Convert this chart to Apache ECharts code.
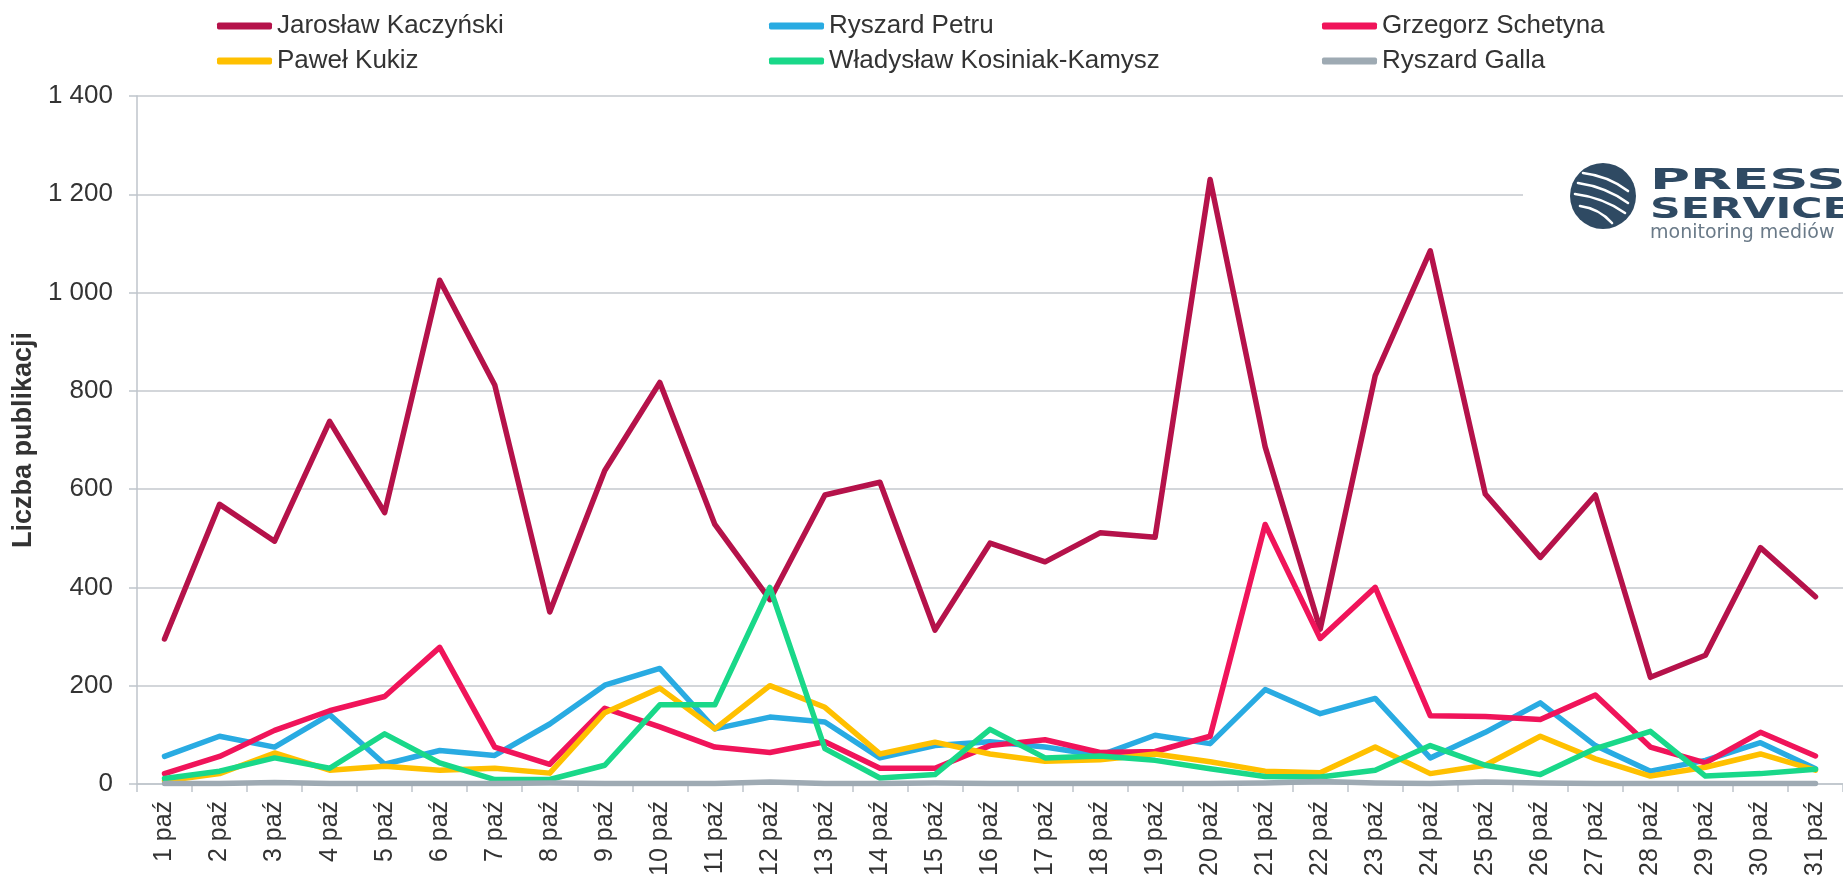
<!DOCTYPE html>
<html>
<head>
<meta charset="utf-8">
<script src="https://cdn.jsdelivr.net/npm/echarts@6/dist/echarts.min.js"></script>
<style>
  html, body { margin: 0; padding: 0; background: #fff; }
  #chart { width: 1843px; height: 879px; }
</style>
</head>
<body>
<div id="chart"></div>
<script>
// dane z wykresu (październik)
var categories = ['1 paź', '2 paź', '3 paź', '4 paź', '5 paź', '6 paź', '7 paź', '8 paź', '9 paź', '10 paź',
  '11 paź', '12 paź', '13 paź', '14 paź', '15 paź', '16 paź', '17 paź', '18 paź', '19 paź', '20 paź',
  '21 paź', '22 paź', '23 paź', '24 paź', '25 paź', '26 paź', '27 paź', '28 paź', '29 paź', '30 paź', '31 paź']

var names = ['Jarosław Kaczyński', 'Ryszard Petru', 'Grzegorz Schetyna', 'Paweł Kukiz', 'Władysław Kosiniak-Kamysz', 'Ryszard Galla']
var colors = ['#b5124a', '#29abe2', '#f0145a', '#ffc000', '#19d889', '#9eaab3']

var kaczynski = [295, 569, 494, 738, 552, 1025, 812, 350, 638, 817, 528, 375, 588, 614, 313, 490, 452, 511, 502, 1230,
  686, 315, 831, 1085, 590, 461, 588, 217, 262, 481, 381]
var petru = [56, 97, 75, 141, 40, 68, 58, 122, 201, 235, 112, 136, 126, 53, 78, 86, 75, 58, 99, 82,
  192, 143, 174, 53, 105, 165, 78, 26, 48, 84, 31]
var schetyna = [21, 56, 109, 149, 178, 278, 75, 40, 154, 116, 75, 64, 86, 32, 32, 78, 90, 64, 66, 97,
  528, 296, 400, 139, 137, 131, 181, 75, 43, 105, 57]
var kukiz = [6, 21, 63, 28, 36, 28, 32, 22, 145, 195, 112, 200, 156, 61, 85, 61, 46, 49, 61, 45,
  26, 23, 75, 21, 38, 97, 51, 16, 34, 61, 28]
var kosiniak = [11, 26, 53, 32, 102, 43, 9, 9, 38, 161, 161, 400, 72, 12, 19, 111, 53, 57, 48, 31,
  15, 14, 28, 78, 38, 19, 72, 107, 16, 21, 30]
var galla = [1, 1, 3, 1, 1, 1, 1, 2, 1, 1, 1, 4, 1, 1, 2, 1, 1, 1, 1, 1,
  2, 5, 2, 1, 4, 2, 1, 1, 1, 1, 1]

var yTicks = [0, 200, 400, 600, 800, 1000, 1200, 1400]

var seriesData = [kaczynski, petru, schetyna, kukiz, kosiniak, galla]
var font = 'Liberation Sans'

var myChart = echarts.init(document.getElementById('chart'))

var legendPos = [[217, 13], [769, 13], [1322, 13], [217, 48], [769, 48], [1322, 48]]
var legends = names.map(function (n, i) {
  return {
    data: [n],
    left: legendPos[i][0],
    top: legendPos[i][1],
    padding: 0,
    icon: 'roundRect',
    itemWidth: 55,
    itemHeight: 7,
    selectedMode: false,
    textStyle: { fontSize: 26, color: '#333', fontFamily: font }
  }
})

// logo w prawym górnym rogu
var cx = 1603, cy = 196
var stripeEnds = [[-20, -23, 25, -5], [-25, -13, 25, 7], [-28, -2, 22, 17], [-23, 10, 9, 27]]
var stripes = stripeEnds.map(function (s) {
  return {
    type: 'bezierCurve',
    z: 101,
    shape: {
      x1: cx + s[0], y1: cy + s[1],
      cpx1: cx + (s[0] + s[2]) / 2 + 3, cpy1: cy + (s[1] + s[3]) / 2 - 6,
      x2: cx + s[2], y2: cy + s[3]
    },
    style: { stroke: '#fff', lineWidth: 2.6, fill: null, lineCap: 'round' }
  }
})

var option = {
  animation: false,
  backgroundColor: '#fff',
  legend: legends,
  grid: { left: 137, top: 96, width: 1711, bottom: 94, containLabel: false },
  xAxis: {
    type: 'category',
    data: categories,
    boundaryGap: true,
    axisLine: { lineStyle: { color: '#bfc5cb', width: 1.5 } },
    axisTick: { show: true, length: 8, lineStyle: { color: '#bfc5cb', width: 1.5 } },
    axisLabel: { rotate: 90, margin: 17, fontSize: 25, color: '#333', fontFamily: font, interval: 0 }
  },
  yAxis: {
    type: 'value',
    min: 0,
    max: 1400,
    interval: 200,
    name: 'Liczba publikacji',
    nameLocation: 'middle',
    nameRotate: 90,
    nameGap: 100,
    nameTextStyle: { fontSize: 27, fontWeight: 'bold', color: '#333', fontFamily: font },
    axisLine: { show: true, lineStyle: { color: '#bfc5cb', width: 1.5 } },
    axisTick: { show: true, length: 8, lineStyle: { color: '#bfc5cb', width: 1.5 } },
    splitLine: { lineStyle: { color: '#c4c9ce', width: 1.5 } },
    axisLabel: {
      margin: 24,
      fontSize: 26,
      color: '#333',
      fontFamily: font,
      formatter: function (v) {
        return yTicks.indexOf(v) >= 0 ? String(v).replace(/\B(?=(\d{3})+(?!\d))/g, ' ') : ''
      }
    }
  },
  graphic: [
    { type: 'rect', z: 100, shape: { x: 1523, y: 150, width: 330, height: 100 }, style: { fill: '#fff' } },
    { type: 'circle', z: 101, shape: { cx: cx, cy: cy, r: 33 }, style: { fill: '#2f4a63' } }
  ].concat(stripes).concat([
    {
      type: 'text', z: 101, x: 1650, y: 168, scaleX: 1.95,
      style: { text: 'PRESS', font: 'bold 28px "DejaVu Sans"', fill: '#2f4a63' }
    },
    {
      type: 'text', z: 101, x: 1650, y: 197, scaleX: 1.52,
      style: { text: 'SERVICE', font: 'bold 28px "DejaVu Sans"', fill: '#2f4a63' }
    },
    {
      type: 'text', z: 101, x: 1650, y: 224,
      style: { text: 'monitoring mediów', font: '19px "DejaVu Sans"', fill: '#6a7a88' }
    }
  ]),
  series: names.map(function (n, i) {
    return {
      name: n,
      type: 'line',
      data: seriesData[i],
      symbol: 'none',
      color: colors[i],
      lineStyle: { width: 5.5, color: colors[i], cap: 'round', join: 'round' }
    }
  })
}

myChart.setOption(option)
</script>
</body>
</html>
